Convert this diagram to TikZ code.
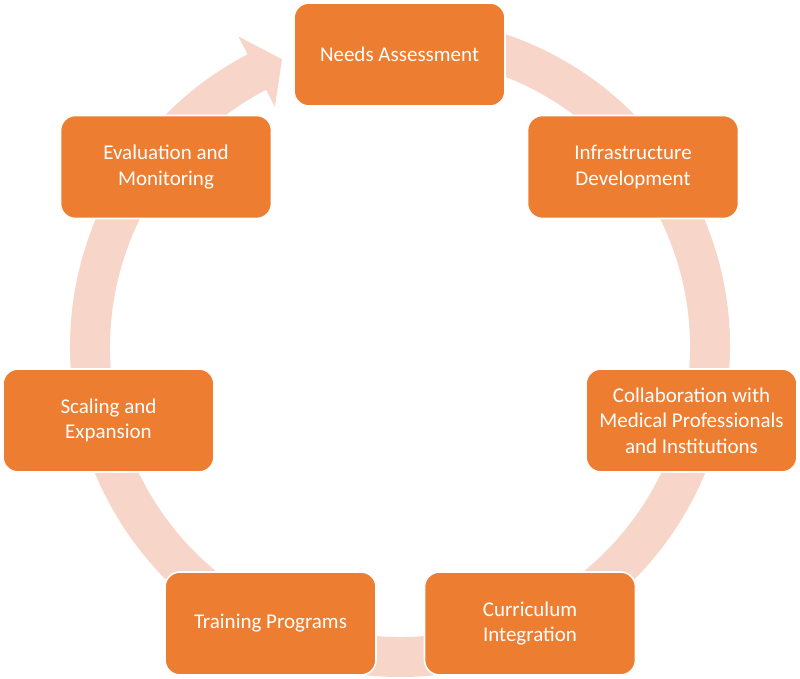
\documentclass[tikz,border=0pt]{standalone}
\usepackage{fontspec}
\setmainfont{Carlito}
\definecolor{boxorange}{HTML}{ED7D31}
\definecolor{ringpink}{HTML}{F8D5C9}
\begin{document}
\begin{tikzpicture}[x=1pt,y=1pt,
  stagebox/.style={draw=white, line width=1.6pt, fill=boxorange, rounded corners=15pt,
    minimum width=211pt, minimum height=103pt, inner sep=0pt, align=center,
    text=white, font=\fontsize{21}{25.5}\selectfont}]
\useasboundingbox (0,0) rectangle (800,679);
\fill[white] (0,0) rectangle (800,679);
% ring arrow
\begin{scope}[shift={(400,332)}]
\fill[ringpink] (85:330pt) arc[start angle=85, end angle=-242.5, radius=330pt]
  -- (117.5:350pt) -- (112.3:311pt) -- (117.5:271pt) -- (117.5:290pt)
  arc[start angle=-242.5, end angle=85, radius=290pt] -- cycle;
\end{scope}
% stages
\node[stagebox] (needs)  at (399.5,624.5) {Needs Assessment};
\node[stagebox] (infra)  at (633,512)     {Infrastructure\\Development};
\node[stagebox] (collab) at (691.5,258.5) {Collaboration with\\Medical Professionals\\and Institutions};
\node[stagebox] (curric) at (530,55.5)    {Curriculum\\Integration};
\node[stagebox] (train)  at (270.5,55.5)  {Training Programs};
\node[stagebox] (scale)  at (108.5,258.5) {Scaling and\\Expansion};
\node[stagebox] (eval)   at (166,512)     {Evaluation and\\Monitoring};
\end{tikzpicture}
\end{document}
